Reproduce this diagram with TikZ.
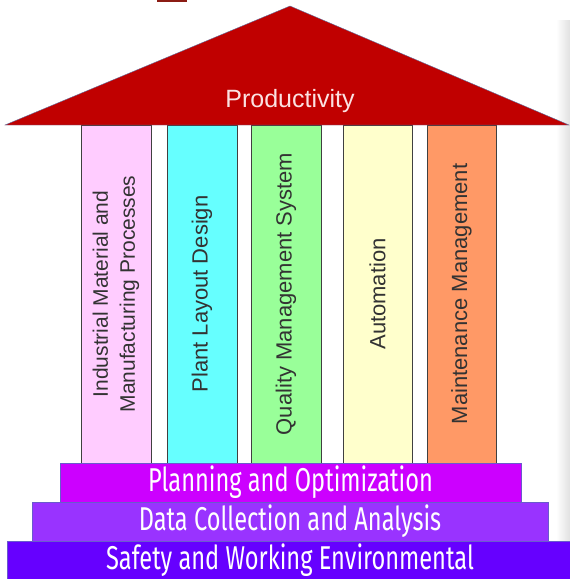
\documentclass[tikz,border=0pt]{standalone}
\usepackage{fontspec}
\setmainfont{Liberation Sans}
\newfontfamily\stepfont[FakeStretch=0.715]{Fira Sans}
\definecolor{roofred}{HTML}{C00000}
\definecolor{roofline}{HTML}{6070A0}
\definecolor{prodtext}{HTML}{FBE2E2}
\definecolor{chimney}{HTML}{8B1C14}
\definecolor{stepline}{HTML}{6A5ACD}

\begin{document}
\begin{tikzpicture}[
		x=1pt,
		y=-1pt,
		thin
	]
		\tikzstyle{pillar}=[
			draw=black!75,
			rotate=90,
			minimum width=338pt,
			minimum height=70pt,
			inner sep=0pt,
			align=center,
			text=black!80,
			font=\fontsize{22}{27}\selectfont
		]
		\tikzstyle{stepbox}=[
			draw=stepline,
			text=white,
			inner sep=0pt,
			minimum height=39pt,
			font=\stepfont\fontsize{33}{33}\selectfont
		]

		\useasboundingbox (0,0) rectangle (570,579);
		\shade[left color=white, right color=black!12] (556,20) rectangle (570,541);
		\fill[fill=chimney] (157,0) rectangle (187,2);

		% pillars
		\node[pillar, fill={rgb,255:red,255;green,204;blue,255}, font=\fontsize{21}{27}\selectfont] (matl) at (116,294) {Industrial Material and\\Manufacturing Processes};
		\node[pillar, fill={rgb,255:red,102;green,255;blue,255}] (layout) at (202,294) {Plant Layout Design};
		\node[pillar, fill={rgb,255:red,153;green,255;blue,153}] (qms) at (286,294) {Quality Management System};
		\node[pillar, fill={rgb,255:red,255;green,255;blue,204}, minimum height=69pt] (auto) at (377.5,294) {Automation};
		\node[pillar, fill={rgb,255:red,255;green,153;blue,102}, minimum height=69pt] (maint) at (461.5,294) {Maintenance Management};

		% roof
		\coordinate (eaveL) at (5,125);
		\coordinate (apex) at (290,6);
		\coordinate (eaveR) at (569,125);
		\draw[draw=roofline, fill=roofred] (eaveL) -- (apex) -- (eaveR) -- cycle;
		\node[text=prodtext, font=\fontsize{25}{25}\selectfont] (prod) at (290,101) {Productivity};

		% steps
		\node[stepbox, fill={rgb,255:red,204;green,0;blue,255}, minimum width=461pt] (plan) at (290.5,482.5) {Planning and Optimization};
		\node[stepbox, fill={rgb,255:red,153;green,51;blue,255}, minimum width=516pt] (data) at (290,521.5) {Data Collection and Analysis};
		\node[stepbox, fill={rgb,255:red,102;green,0;blue,255}, minimum width=566pt] (safety) at (290,560.5) {Safety and Working Environmental};
%		\draw (plan) -- (matl);
	\end{tikzpicture}
\end{document}
